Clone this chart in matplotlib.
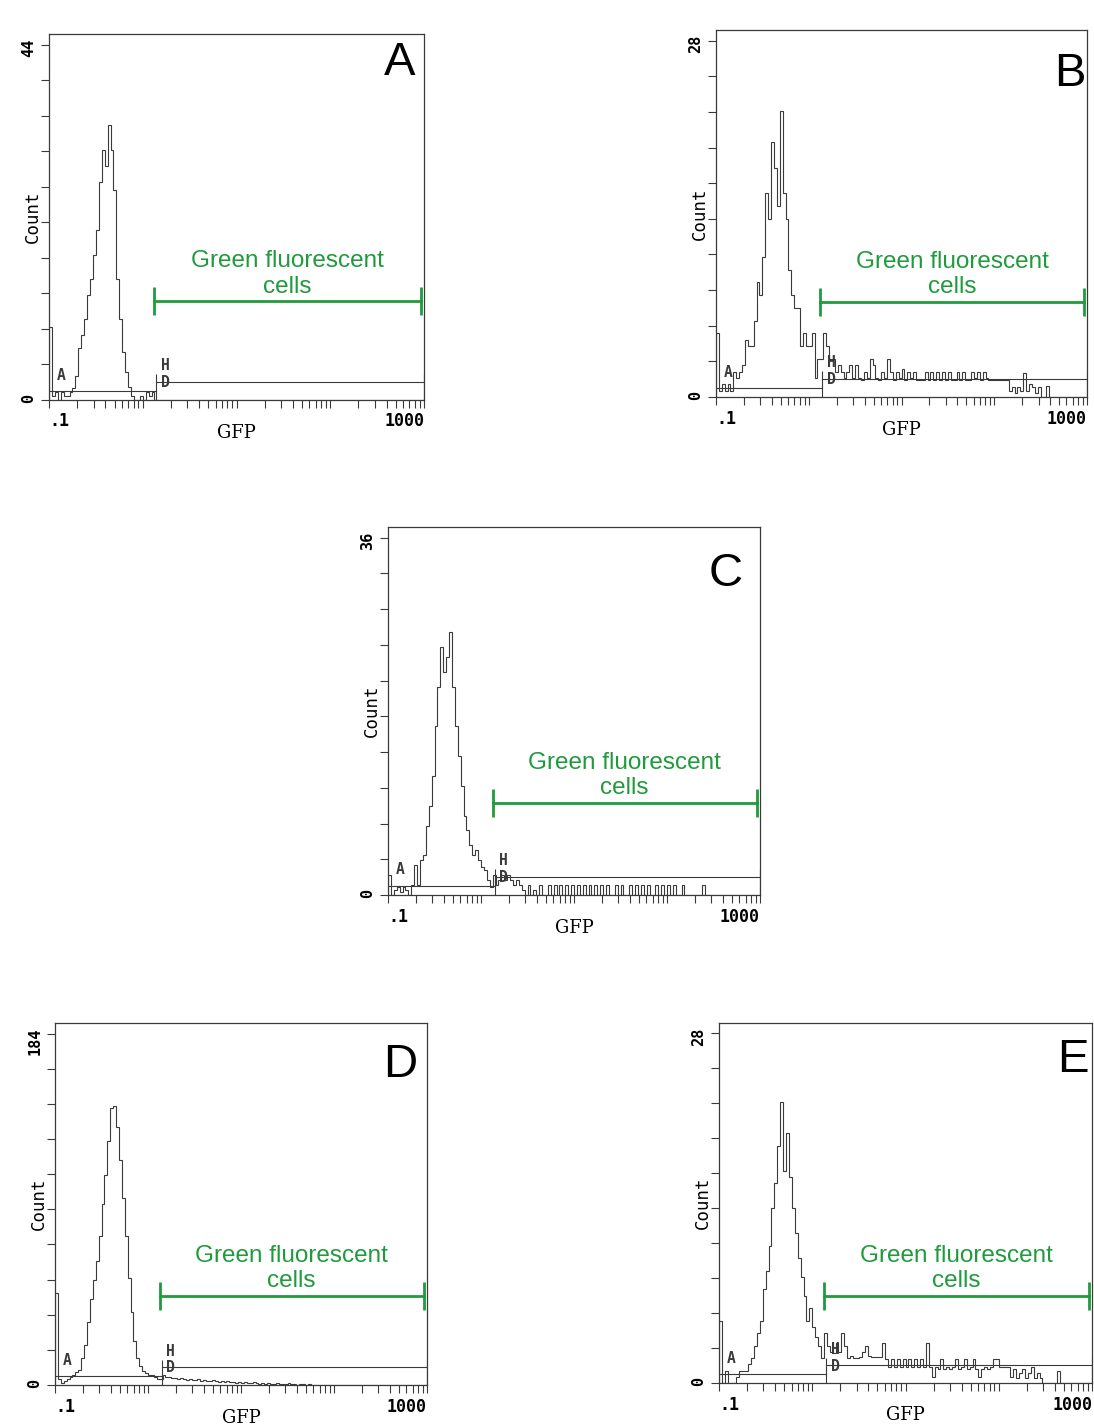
import numpy as np
import matplotlib.pyplot as plt
from matplotlib.ticker import LogLocator, NullFormatter

# GFP histograms, 32 channels per decade from 0.1 to 1000 (128 channels)
counts_a = [9, 0.5, 1, 0, 1, 0.5, 0.5, 1, 1.5, 3,
            6.5, 8, 10, 13, 15, 18, 21, 27, 31, 29,
            34, 31, 26, 15, 10, 6, 3.5, 1.6, 0.5, 0,
            0, 0.5, 0, 1, 0.5, 1, 0, 0, 0, 0,
            0, 0, 0, 0, 0, 0, 0, 0, 0, 0,
            0, 0, 0, 0, 0, 0, 0, 0, 0, 0,
            0, 0, 0, 0, 0, 0, 0, 0, 0, 0,
            0, 0, 0, 0, 0, 0, 0, 0, 0, 0,
            0, 0, 0, 0, 0, 0, 0, 0, 0, 0,
            0, 0, 0, 0, 0, 0, 0, 0, 0, 0,
            0, 0, 0, 0, 0, 0, 0, 0, 0, 0,
            0, 0, 0, 0, 0, 0, 0, 0, 0, 0,
            0, 0, 0, 0, 0, 0, 0, 0]

counts_b = [5, 0.5, 1, 0.5, 1, 0.5, 2, 1.5, 2, 2.5,
            4.5, 4, 4, 6, 9, 8, 11, 16, 14, 20,
            18, 15, 22.5, 16, 14, 10, 8, 7, 7, 4,
            5, 4, 4, 5, 1.5, 3, 3, 5, 4, 3,
            3, 2, 2.5, 2, 1.5, 2, 2.5, 1.5, 2.5, 1.5,
            1.3, 2, 1.5, 3, 2.5, 1.5, 1.3, 2, 1.5, 3,
            2, 1.3, 2, 1.5, 2.2, 1.3, 2, 1.5, 2, 1.3,
            1.3, 1.3, 2, 1.3, 2, 1.3, 2, 1.3, 2, 1.3,
            2, 1.3, 1.3, 2, 1.3, 2, 1.3, 1.3, 2, 1.5,
            2, 1.3, 2, 1.5, 1.3, 1.3, 1.3, 1.3, 1.3, 1.3,
            1.3, 0.5, 0.8, 0.3, 0.8, 0.5, 1.9, 0.5, 1, 0.8,
            0.3, 0.8, 0, 0, 0.9, 0, 0, 0, 0, 0,
            0, 0, 0, 0, 0, 0, 0, 0]

counts_c = [2, 0, 0.5, 0.8, 0.3, 0.8, 0.5, 0, 1, 3,
            1, 3.5, 4, 7, 9, 12, 17, 21, 25, 22.5,
            24, 26.5, 21, 17, 14, 11, 8, 6.5, 5, 4,
            4.5, 3.5, 2.8, 2.5, 1.5, 0.8, 2, 1, 1.5, 2,
            1.5, 2, 1.5, 1, 1.5, 1, 0.5, 0, 1, 0,
            0.5, 0, 1, 0, 0, 1, 0, 1, 0, 1,
            0, 1, 0, 1, 0, 1, 0, 1, 0, 1,
            0, 1, 0, 1, 0, 1, 0, 0, 1, 0,
            1, 0, 0, 1, 0, 1, 0, 1, 0, 1,
            0, 0, 1, 0, 1, 0, 1, 0, 1, 0,
            0, 1, 0, 0, 0, 0, 0, 0, 1, 0,
            0, 0, 0, 0, 0, 0, 0, 0, 0, 0,
            0, 0, 0, 0, 0, 0, 0, 0]

counts_d = [48, 3, 1, 2, 3, 4, 5, 7, 8, 14,
            21, 33, 45, 55, 65, 78, 95, 110, 128, 145,
            146, 135, 118, 98, 78, 56, 38, 23, 14, 10,
            7.5, 6.5, 5, 5, 4, 3, 3, 5, 4, 4,
            3.5, 3.5, 3, 3.5, 3, 2.5, 3, 2.5, 2.5, 3,
            2, 2.5, 2, 2, 2.5, 2, 1.5, 2, 1.5, 2,
            1.5, 1.5, 1, 1.5, 1, 1.5, 1, 1, 1.5, 1,
            0.5, 1, 0.5, 1, 0.5, 0.5, 1, 0.5, 0.5, 0.5,
            1, 0.5, 0.5, 0, 0.5, 0.5, 0, 0.5, 0, 0,
            0, 0, 0, 0, 0, 0, 0, 0, 0, 0,
            0, 0, 0, 0, 0, 0, 0, 0, 0, 0,
            0, 0, 0, 0, 0, 0, 0, 0, 0, 0,
            0, 0, 0, 0, 0, 0, 0, 0]

counts_e = [5, 0, 1, 0, 0, 0, 0.5, 1, 1, 1,
            1.5, 2, 3, 4, 5, 7.5, 9, 11, 14, 16,
            19, 22.5, 17, 20, 16.5, 14, 12, 10, 8.5, 7,
            5, 6, 4.5, 3.7, 3, 2, 4, 3, 2.5, 2.4,
            3.2, 2.5, 4, 3, 2, 2.2, 2, 2, 2.1, 2.5,
            3, 2.2, 2.1, 2.1, 2.1, 2.1, 3.2, 1.9, 1.3, 1.9,
            1.3, 1.9, 1.3, 1.9, 1.3, 1.9, 1.3, 1.9, 1.3, 1.9,
            1.3, 3.2, 1.3, 0.5, 1.3, 1.1, 1.9, 1.1, 1.3, 1.1,
            1.3, 1.9, 1.1, 1.3, 1.9, 1.1, 1.3, 1.9, 1.1, 0.5,
            1.1, 1.3, 1.1, 1.3, 1.9, 1.9, 1.3, 1.3, 1.3, 1.3,
            0.5, 1.1, 0.4, 0.8, 1.1, 0.4, 0.8, 1.3, 0.4, 0.8,
            0.4, 0, 0, 0, 0, 0, 1, 0, 0, 0,
            0, 0, 0, 0, 0, 0, 0, 0]

panel_letters = ['A', 'B', 'C', 'D', 'E']
count_max = [44, 28, 36, 184, 28]
all_counts = [counts_a, counts_b, counts_c, counts_d, counts_e]

gate = 1.4          # start of the H/D marker
bar_start, bar_end = 1.33, 930

W, H = 1094, 1426
# axes boxes in pixels: left, top, right, bottom
boxes = [(49, 34, 424, 400), (716, 30, 1087, 397), (388, 527, 760, 895),
         (55, 1023, 427, 1385), (719, 1023, 1092, 1383)]
letter_pos = [(0.976, 0.981), (0.997, 0.94), (0.954, 0.932), (0.973, 0.945), (0.99, 0.958)]
bar_y = [0.27, 0.26, 0.25, 0.246, 0.242]

green = '#1f9a3c'
ink = '#3a3a3a'

plt.rcParams['font.family'] = 'DejaVu Sans Mono'
plt.rcParams['font.weight'] = 'bold'

edges = 0.1 * 10 ** (np.arange(len(counts_a) + 1) / 32)

fig = plt.figure(figsize=(W / 100, H / 100), dpi=100)

for i, letter in enumerate(panel_letters):
    l, t, r, b = boxes[i]
    ax = fig.add_axes([l / W, 1 - b / H, (r - l) / W, (b - t) / H])
    ymax = count_max[i]

    ax.stairs(all_counts[i], edges, baseline=0, color=ink, lw=0.8)

    ax.set_xscale('log')
    ax.set_xlim(0.1, 1000)
    ax.set_ylim(0, ymax * 1.03)

    ax.set_xticks([0.1, 1, 10, 100, 1000], ['.1', '', '', '', '1000'])
    ax.xaxis.set_minor_locator(LogLocator(base=10, subs=range(2, 10)))
    ax.xaxis.set_minor_formatter(NullFormatter())
    xl = ax.get_xticklabels()
    xl[0].set_ha('left')
    xl[-1].set_ha('right')

    ax.set_yticks(np.linspace(0, ymax, 11),
                  ['0'] + [''] * 9 + [str(ymax)])
    ax.tick_params(axis='y', labelrotation=90, length=6, width=0.8,
                   color=ink, labelsize=11, pad=3)
    ax.tick_params(axis='x', which='both', length=6, width=0.8,
                   color=ink, labelsize=12, pad=3)
    for s in ax.spines.values():
        s.set_color(ink)
        s.set_linewidth(0.9)

    ax.set_ylabel('Count', fontsize=12.5)
    ax.yaxis.set_label_coords(-0.02, 0.5)
    ax.set_xlabel('GFP', family='DejaVu Serif', fontsize=13)
    ax.xaxis.set_label_coords(0.5, -0.065)

    # region markers
    xt = ax.get_xaxis_transform()
    ax.plot([0.1, gate], [0.025, 0.025], transform=xt, color=ink, lw=0.8)
    ax.plot([gate, 1000], [0.049, 0.049], transform=xt, color=ink, lw=0.8)
    ax.vlines([gate, 1000], 0, 0.07, transform=xt, color=ink, lw=0.8)
    ax.text(0.135, 0.068, 'A', transform=xt, fontsize=10.5, color=ink,
            ha='center', va='center')
    ax.text(1.75, 0.093, 'H', transform=xt, fontsize=10.5, color=ink,
            ha='center', va='center')
    ax.text(1.75, 0.047, 'D', transform=xt, fontsize=10.5, color=ink,
            ha='center', va='center')

    # green fluorescent gate
    by = bar_y[i]
    ax.plot([bar_start, bar_end], [by, by], transform=xt, color=green, lw=2)
    ax.vlines([bar_start, bar_end], by - 0.038, by + 0.038, transform=xt,
              color=green, lw=2)
    ax.text(35, by + 0.01, 'Green fluorescent\ncells', transform=xt,
            family='Liberation Sans', weight='normal', fontsize=17.5,
            color=green, ha='center', va='bottom', multialignment='center',
            linespacing=1.2)

    lx, ly = letter_pos[i]
    ax.text(lx, ly, letter, transform=ax.transAxes, family='Liberation Sans',
            weight='normal', fontsize=34, ha='right', va='top', color='black')

fig.savefig('out.png', dpi=100)
